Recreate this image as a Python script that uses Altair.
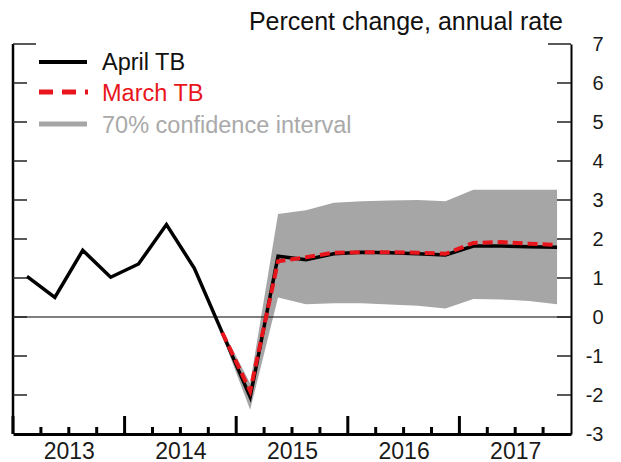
import altair as alt
import pandas as pd

# ---- data ----
year_labels = ["2013", "2014", "2015", "2016", "2017"]
n_quarters = 20
april_tb = [1.04, 0.50, 1.71, 1.02, 1.36, 2.37, 1.25, -0.40, -2.05, 1.56,
            1.47, 1.62, 1.66, 1.65, 1.62, 1.59, 1.82, 1.82, 1.80, 1.79]
forecast_start = 7  # 2014Q4
march_tb = [-0.40, -1.90, 1.43, 1.53, 1.65, 1.66, 1.66, 1.65, 1.62, 1.90, 1.92, 1.88, 1.85]
band_low = [-0.48, -2.38, 0.50, 0.33, 0.35, 0.35, 0.32, 0.29, 0.22, 0.46, 0.45, 0.41, 0.33]
band_high = [-0.32, -1.70, 2.64, 2.74, 2.93, 2.97, 2.99, 3.00, 2.97, 3.26, 3.26, 3.26, 3.26]
y_tick_values = [-3, -2, -1, 0, 1, 2, 3, 4, 5, 6, 7]
legend_names = ["April TB", "March TB", "70% confidence interval"]
title_text = "Percent change, annual rate"

W, H = 558, 390
FONT = "Liberation Sans"
RED = "#e8161c"
GRAY = "#a6a6a6"

pos = [i + 0.5 for i in range(n_quarters)]
df_april = pd.DataFrame({"x": pos, "v": april_tb})
df_march = pd.DataFrame({"x": pos[forecast_start:], "v": march_tb})
df_band = pd.DataFrame({"x": pos[forecast_start:], "lo": band_low, "hi": band_high})

xs = alt.Scale(domain=[0, n_quarters], nice=False, zero=False)
ys = alt.Scale(domain=[y_tick_values[0], y_tick_values[-1]], nice=False, zero=False)

year_label_expr = ("[" + ",".join("'" + y + "'" for y in year_labels) +
                   "][round((datum.value - 2) / 4)]")
x_axis = alt.Axis(values=[2, 6, 10, 14, 18], labelExpr=year_label_expr,
                  ticks=False, grid=False, domainWidth=3, domainColor="black",
                  labelFontSize=23, labelColor="#1a1a1a", labelPadding=6, title=None)
y_axis = alt.Axis(orient="right", values=y_tick_values, ticks=False, grid=False,
                  domainWidth=2, domainColor="black", labelFontSize=20,
                  labelAlign="right", labelExpr="datum.value + ''",
                  labelColor="#1a1a1a", labelPadding=32, title=None)


def X(field):
    return alt.X(field, scale=xs, axis=x_axis)


def Y(field):
    return alt.Y(field, scale=ys, axis=y_axis)


band = alt.Chart(df_band).mark_area(color=GRAY, opacity=1).encode(
    x=X("x:Q"), y=Y("lo:Q"), y2="hi:Q")

zero_line = alt.Chart(pd.DataFrame({"v": [0]})).mark_rule(color="black", strokeWidth=1.2).encode(
    y=Y("v:Q"), x=alt.value(0), x2=alt.value(W))

april = alt.Chart(df_april).mark_line(color="black", strokeWidth=3.5, strokeJoin="miter").encode(
    x=X("x:Q"), y=Y("v:Q"))

march = alt.Chart(df_march).mark_line(color=RED, strokeWidth=4, strokeDash=[10, 5]).encode(
    x=X("x:Q"), y=Y("v:Q"))

# axis frame pieces
left_axis = alt.Chart(pd.DataFrame({"a": [0]})).mark_rule(color="black", strokeWidth=2.5).encode(
    x=alt.value(0), y=alt.value(0), y2=alt.value(H))

small_q = [q for q in range(1, n_quarters) if q % 4 != 0]
big_q = [q for q in range(0, n_quarters) if q % 4 == 0]
xt_small = alt.Chart(pd.DataFrame({"q": small_q})).mark_rule(color="black", strokeWidth=3).encode(
    x=X("q:Q"), y=alt.value(H), y2=alt.value(H - 7))
xt_big = alt.Chart(pd.DataFrame({"q": big_q})).mark_rule(color="black", strokeWidth=3).encode(
    x=X("q:Q"), y=alt.value(H), y2=alt.value(H - 18))

inner_ticks = pd.DataFrame({"v": [v for v in y_tick_values if v not in (-3, 7)]})
top_tick = pd.DataFrame({"v": [y_tick_values[-1]]})
yt_left = alt.Chart(inner_ticks).mark_rule(color="#222", strokeWidth=1.5).encode(
    y=Y("v:Q"), x=alt.value(0), x2=alt.value(14))
yt_right = alt.Chart(inner_ticks).mark_rule(color="#222", strokeWidth=1.5).encode(
    y=Y("v:Q"), x=alt.value(W), x2=alt.value(W - 14))
yt_top_left = alt.Chart(top_tick).mark_rule(color="#222", strokeWidth=1.5).encode(
    y=Y("v:Q"), x=alt.value(0), x2=alt.value(23))
yt_top_right = alt.Chart(top_tick).mark_rule(color="#222", strokeWidth=1.5).encode(
    y=Y("v:Q"), x=alt.value(W), x2=alt.value(W - 23))

title = alt.Chart(pd.DataFrame({"t": [title_text]})).mark_text(
    align="right", baseline="alphabetic", fontSize=25, color="#111").encode(
    x=alt.value(550), y=alt.value(-14), text="t:N")

# manual legend
leg_a_line = alt.Chart(pd.DataFrame({"n": [legend_names[0]]})).mark_rule(
    color="black", strokeWidth=4).encode(x=alt.value(26), x2=alt.value(74), y=alt.value(18))
leg_m_line = alt.Chart(pd.DataFrame({"n": [legend_names[1]]})).mark_rule(
    color=RED, strokeWidth=5, strokeDash=[14, 9]).encode(x=alt.value(26), x2=alt.value(75), y=alt.value(48))
leg_c_line = alt.Chart(pd.DataFrame({"n": [legend_names[2]]})).mark_rule(
    color=GRAY, strokeWidth=5).encode(x=alt.value(26), x2=alt.value(74), y=alt.value(80))
leg_a_txt = alt.Chart(pd.DataFrame({"n": [legend_names[0]]})).mark_text(
    align="left", baseline="middle", fontSize=23.5, color="#111").encode(
    x=alt.value(89), y=alt.value(19), text="n:N")
leg_m_txt = alt.Chart(pd.DataFrame({"n": [legend_names[1]]})).mark_text(
    align="left", baseline="middle", fontSize=23.5, color=RED).encode(
    x=alt.value(89), y=alt.value(50), text="n:N")
leg_c_txt = alt.Chart(pd.DataFrame({"n": [legend_names[2]]})).mark_text(
    align="left", baseline="middle", fontSize=23.5, color="#a9a9a9").encode(
    x=alt.value(89), y=alt.value(82), text="n:N")

chart = alt.layer(
    band, zero_line, april, march, left_axis, xt_small, xt_big,
    yt_left, yt_right, yt_top_left, yt_top_right, title,
    leg_a_line, leg_m_line, leg_c_line, leg_a_txt, leg_m_txt, leg_c_txt,
).properties(
    width=W, height=H,
    autosize=alt.AutoSizeParams(type="none"),
    padding={"left": 5, "top": 36, "right": 40, "bottom": 28},
).configure(font=FONT).configure_view(stroke=None)

chart.save("out.html", embed_options={"renderer": "svg", "actions": False})
